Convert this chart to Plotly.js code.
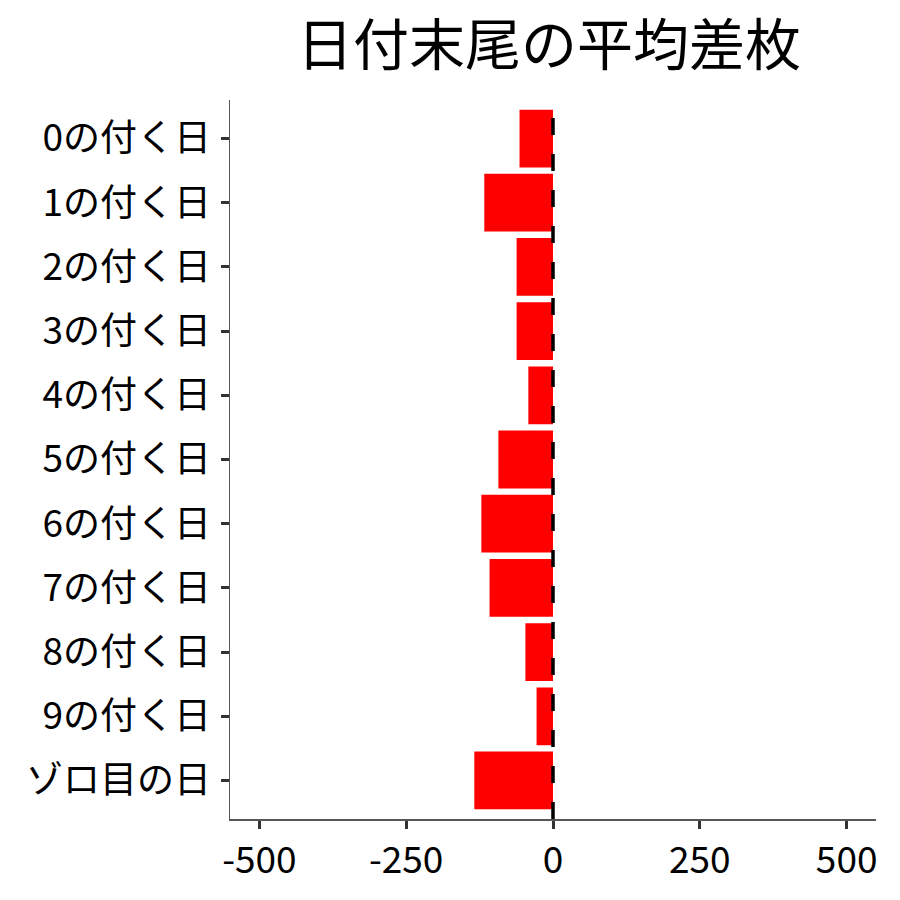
<!DOCTYPE html>
<html>
<head>
<meta charset="utf-8">
<script src="https://cdn.plot.ly/plotly-3.0.1.min.js"></script>
<style>
  body { margin: 0; background: #fff; }
  #chart { width: 900px; height: 900px; }
</style>
</head>
<body>
<div id="chart"></div>
<script>
// 日付末尾ごとの平均差枚
var categories = ['0の付く日', '1の付く日', '2の付く日', '3の付く日', '4の付く日',
                  '5の付く日', '6の付く日', '7の付く日', '8の付く日', '9の付く日', 'ゾロ目の日']
var avgDiff = [-57, -117, -62, -62, -42, -93, -122, -108, -47, -28, -134]
var xTicks = [-500, -250, 0, 250, 500]
var xTickLabels = ['-500', '-250', '0', '250', '500']

var font = '"Noto Sans CJK JP", "Noto Sans", sans-serif'

var bars = {
  type: 'bar',
  orientation: 'h',
  y: categories,
  x: avgDiff,
  width: 0.9,
  marker: { color: '#ff0000', line: { width: 0 } },
  hoverinfo: 'x+y'
}

var layout = {
  width: 900,
  height: 900,
  margin: { l: 230, r: 24, t: 100, b: 81, pad: 0 },
  paper_bgcolor: '#ffffff',
  plot_bgcolor: '#ffffff',
  showlegend: false,
  bargap: 0.1,
  font: { family: font, color: '#000000' },
  title: {
    text: '日付末尾の平均差枚',
    font: { family: font, size: 56, color: '#000000' },
    x: 0.61, xanchor: 'center',
    y: 0.95, yanchor: 'middle'
  },
  xaxis: {
    range: [-550, 550],
    tickvals: xTicks,
    ticktext: xTickLabels,
    showgrid: false,
    zeroline: false,
    showline: true,
    linecolor: '#555555',
    linewidth: 1.5,
    ticks: 'outside',
    ticklen: 8,
    tickwidth: 3,
    tickcolor: '#333333',
    tickfont: { family: font, size: 37, color: '#000000' }
  },
  yaxis: {
    type: 'category',
    range: [10.6, -0.6],
    showgrid: false,
    zeroline: false,
    showline: true,
    linecolor: '#555555',
    linewidth: 1.5,
    ticks: 'outside',
    ticklen: 8,
    tickwidth: 3,
    tickcolor: '#333333',
    ticklabelstandoff: 2,
    tickfont: { family: font, size: 37, color: '#000000' }
  },
  shapes: [{
    type: 'line',
    xref: 'x', yref: 'paper',
    x0: 0, x1: 0, y0: 0, y1: 1,
    layer: 'above',
    line: { color: '#000000', width: 3.5, dash: '17px,19px' }
  }]
}

Plotly.newPlot('chart', [bars], layout, { displayModeBar: false, staticPlot: true })
</script>
</body>
</html>
